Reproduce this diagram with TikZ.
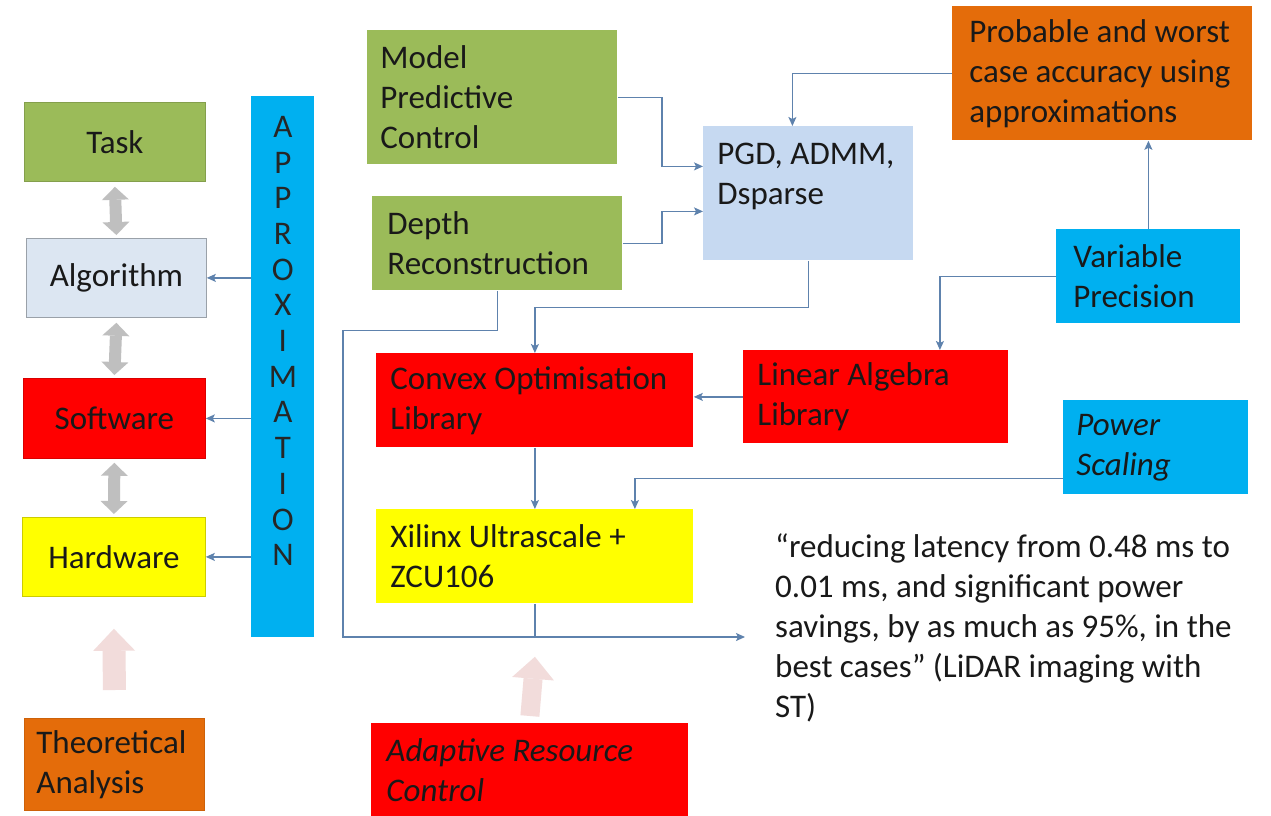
\documentclass[tikz,border=0pt]{standalone}
\usepackage{fontspec}
\setmainfont{Carlito}
\usetikzlibrary{arrows.meta,calc}
\definecolor{cgreen}{HTML}{9BBB59}
\definecolor{clight}{HTML}{DCE6F2}
\definecolor{cred}{HTML}{FF0000}
\definecolor{cyellow}{HTML}{FFFF00}
\definecolor{corange}{HTML}{E46C0A}
\definecolor{ccyan}{HTML}{00B0F0}
\definecolor{cpgd}{HTML}{C6D9F1}
\definecolor{lineblue}{HTML}{5E82AD}
\definecolor{arrgray}{HTML}{BFBFBF}
\definecolor{cpink}{HTML}{F2DCDB}
\begin{document}
\begin{tikzpicture}[x=1pt,y=-1pt,
  font=\fontsize{33}{40}\selectfont,
  lbox/.style={rectangle, anchor=north west, align=flush left, inner ysep=0pt, text=black!90, line width=0.8pt},
  cbox/.style={rectangle, anchor=north west, align=center, inner sep=0pt, text=black!90, line width=0.8pt},
  conn/.style={draw=lineblue, line width=1.3pt, -{Stealth[length=9pt,width=8pt,inset=2pt]}},
  plainline/.style={draw=lineblue, line width=1.3pt},
  grayarr/.style={draw=arrgray, line width=12pt, {Triangle[length=13pt,width=27pt,line width=0pt]}-{Triangle[length=13pt,width=27pt,line width=0pt]}},
  pinkarr/.style={draw=cpink, line width=#1, -{Triangle[length=22pt,width=42pt,line width=0pt]}}
]
\useasboundingbox[fill=white] (0,0) rectangle (1271,816);

% left column
\node[cbox, fill=cgreen, draw=cgreen!85!black, minimum width=181pt, minimum height=79pt] (task) at (24,102) {Task};
\node[cbox, fill=clight, draw=clight!70!black, minimum width=180pt, minimum height=79pt] (algo) at (26,238) {Algorithm};
\node[cbox, fill=cred, draw=cred!85!black, minimum width=182pt, minimum height=80pt] (soft) at (23,378) {Software};
\node[cbox, fill=cyellow, draw=cyellow!80!black, minimum width=183pt, minimum height=79pt] (hard) at (22,517) {Hardware};
\node[lbox, fill=corange, draw=corange!90!black, minimum width=180pt, minimum height=92pt, inner xsep=12pt, text width=156pt] (theo) at (24,718) {Theoretical\\Analysis};

% approximation bar
\node[cbox, fill=ccyan, minimum width=63pt, minimum height=541pt] (approx) at (251,96) {};
\node[anchor=north, inner sep=0pt, align=center, font=\fontsize{33}{35.7}\selectfont, text=black!85] (approxtxt) at ([yshift=-20pt]approx.north) {A\\P\\P\\R\\O\\X\\I\\M\\A\\T\\I\\O\\N};

% right part
\node[lbox, fill=cgreen, minimum width=250pt, minimum height=134pt, inner xsep=13pt, text width=224pt] (mpc) at (367,30) {Model\\Predictive\\Control};
\node[lbox, fill=cgreen, minimum width=250pt, minimum height=94pt, inner xsep=15pt, text width=220pt] (depth) at (372,196) {Depth\\Reconstruction};
\node[lbox, fill=cpgd, minimum width=210pt, minimum height=134pt, inner xsep=14pt, text width=182pt] (pgd) at (703,126) {PGD, ADMM,\\Dsparse\\\mbox{}};
\node[lbox, fill=corange, minimum width=300pt, minimum height=134pt, inner xsep=17pt, text width=266pt] (prob) at (952,6) {Probable and worst\\case accuracy using\\approximations};
\node[lbox, fill=ccyan, minimum width=184pt, minimum height=94pt, inner xsep=17pt, text width=150pt] (var) at (1056,229) {Variable\\Precision};
\node[lbox, fill=cred, minimum width=265pt, minimum height=93pt, inner xsep=14pt, text width=237pt] (lin) at (743,350) {Linear Algebra\\Library};
\node[lbox, fill=cred, minimum width=317pt, minimum height=94pt, inner xsep=14pt, text width=289pt] (conv) at (376,353) {Convex Optimisation\\Library};
\node[lbox, fill=ccyan, minimum width=185pt, minimum height=94pt, inner xsep=13pt, text width=159pt, font=\fontsize{33}{40}\selectfont\itshape] (pow) at (1063,400) {Power\\Scaling};
\node[lbox, fill=cyellow, minimum width=317pt, minimum height=94pt, inner xsep=14pt, text width=289pt] (xil) at (376,509) {Xilinx Ultrascale +\\ZCU106};
\node[lbox, fill=cred, minimum width=317pt, minimum height=94pt, inner xsep=15pt, text width=287pt, font=\fontsize{33}{40}\selectfont\itshape] (adapt) at (371,723) {Adaptive Resource\\Control};

\node[anchor=north west, inner sep=0pt, align=left, text=black!90] (quote) at (775,533) {“reducing latency from 0.48 ms to\\0.01 ms, and significant power\\savings, by as much as 95\%, in the\\best cases” (LiDAR imaging with\\ST)};

% block arrows
\draw[grayarr] ([yshift=-5pt]task.south) -- ([yshift=3pt]algo.north);
\draw[grayarr] ([yshift=-5pt]algo.south) -- ([yshift=3pt]soft.north);
\draw[grayarr] ([yshift=-4pt]soft.south) -- ([yshift=3pt]hard.north);
\draw[pinkarr=23pt] ([yshift=28pt]theo.north) -- ([yshift=-32pt]hard.south);
\draw[pinkarr=19pt] ([yshift=7pt]adapt.north) -- ([yshift=-53pt]xil.south);

% connectors
\draw[conn] (approx.west |- algo.east) -- (algo.east);
\draw[conn] (approx.west |- soft.east) -- (soft.east);
\draw[conn] (approx.west |- hard.east) -- (hard.east);
\draw[conn] (mpc.east) -| ([xshift=-41pt,yshift=27pt]pgd.west) -- ([yshift=27pt]pgd.west);
\draw[conn] (depth.east) -| ([xshift=-41pt,yshift=-18pt]pgd.west) -- ([yshift=-18pt]pgd.west);
\draw[conn] (prob.west) -| ([xshift=-16pt]pgd.north);
\draw[conn] (var.north) -- (var.north |- prob.south);
\draw[conn] (var.west) -| ([xshift=64pt]lin.north);
\draw[conn] (lin.west) -- (lin.west -| conv.east);
\draw[conn] (pgd.south) -- ++(0,47) -| (conv.north);
\draw[conn] (conv.south) -- (xil.north);
\draw[conn] ([yshift=-31pt]pow.west) -| ([xshift=100pt]xil.north);
\coordinate (qtip) at (745,637);
\draw[conn] (depth.south) -- ++(0,40) -| (343,637) -- (qtip);
\draw[plainline] (xil.south) -- (xil.south |- qtip);
\end{tikzpicture}
\end{document}
